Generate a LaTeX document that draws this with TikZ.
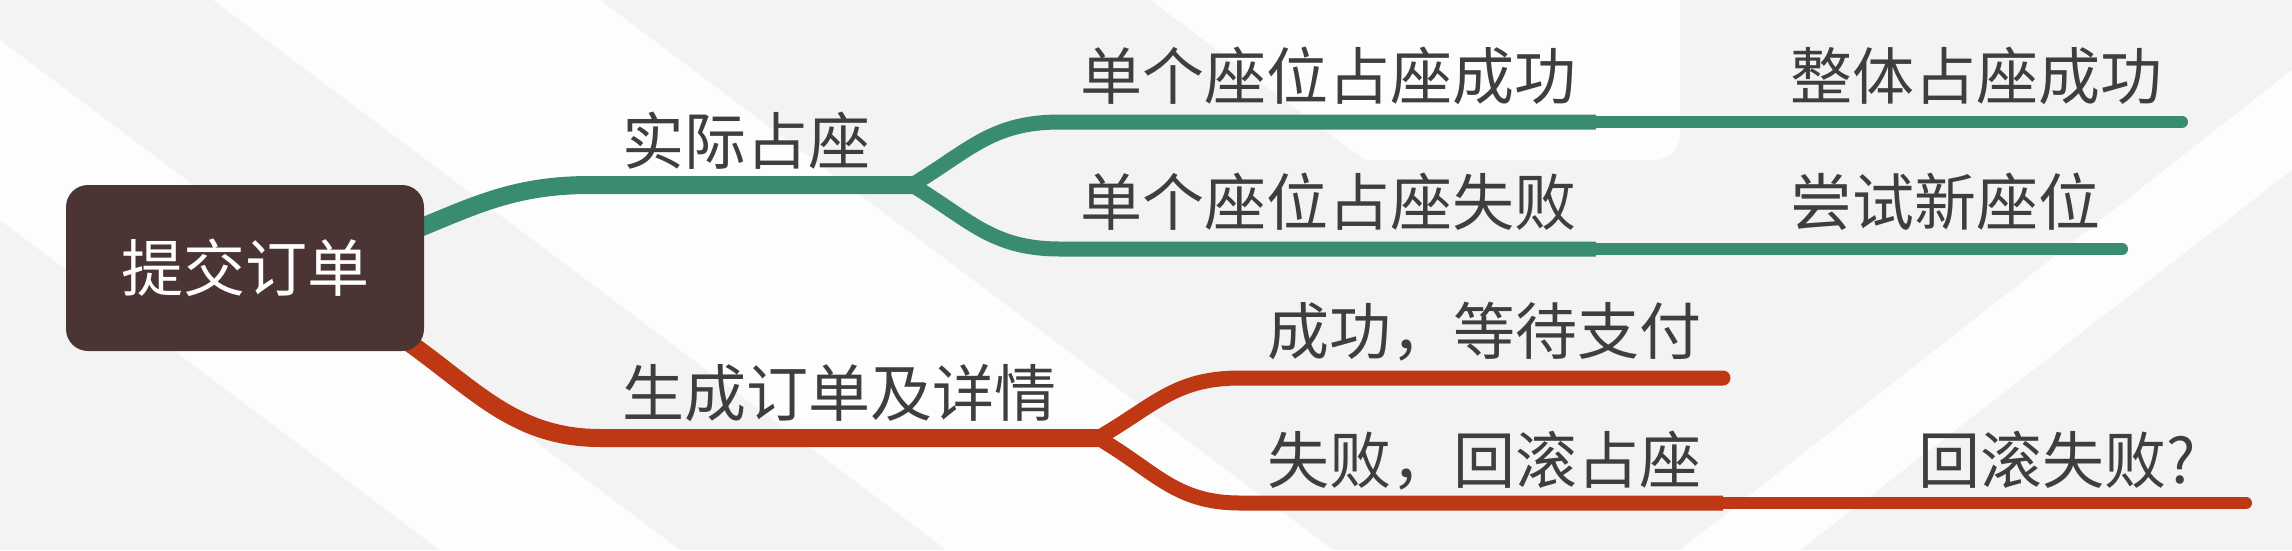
\documentclass[tikz,border=0pt]{standalone}
\usepackage{fontspec}
\setmainfont{Noto Sans CJK SC}
\definecolor{bggray}{HTML}{F3F3F3}
\definecolor{bgwhite}{HTML}{FDFDFD}
\definecolor{brgreen}{HTML}{3A8C6E}
\definecolor{brred}{HTML}{BE3814}
\definecolor{rootfill}{HTML}{4A3534}
\definecolor{txt}{HTML}{3E3E3E}
\pgfdeclarelayer{bgl}
\pgfdeclarelayer{lines}
\pgfsetlayers{bgl,lines,main}
\begin{document}
\begin{tikzpicture}[x=1pt,y=-1pt,
  lbl/.style={font=\fontsize{62}{70}\selectfont, text=txt, inner sep=0pt, anchor=base west},
  rootbox/.style={fill=rootfill, rounded corners=22pt, minimum width=358pt, minimum height=166pt,
    text=white, inner sep=0pt, font=\fontsize{62}{70}\selectfont},
  lone/.style={line width=18pt, line cap=round},
  ltwo/.style={line width=15pt, line cap=butt},
  ltwoleaf/.style={line width=15pt, line cap=round},
  lthree/.style={line width=12pt, line cap=round},
]
\useasboundingbox (0,0) rectangle (2292,550);
\begin{pgfonlayer}{bgl}
  \fill[bggray] (0,0) rectangle (2292,550);
  \fill[bgwhite] (0,40) -- (0,220) -- (440,550) -- (680,550) -- cycle;
  \fill[bgwhite] (213,0) -- (600,0) -- (1333,550) -- (947,550) -- cycle;
  \fill[bgwhite] (1150,0) -- (1680,0) -- (1680,135) arc[start angle=0,end angle=90,radius=25] -- (1365,160) -- cycle;
  \fill[bgwhite] (2292,70) -- (2292,170) -- (1800,550) -- (1680,550) -- cycle;
\end{pgfonlayer}

% nodes
\node[rootbox] (root) at (245,268) {提交订单};
\node[lbl] (a) at (622,164) {实际占座};
\node[lbl] (b) at (622,416) {生成订单及详情};
\node[lbl] (a1) at (1080,99) {单个座位占座成功};
\node[lbl] (a2) at (1080,225) {单个座位占座失败};
\node[lbl] (a11) at (1790,99) {整体占座成功};
\node[lbl] (a21) at (1790,225) {尝试新座位};
\node[lbl] (b1) at (1267,354) {成功，等待支付};
\node[lbl] (b2) at (1267,483) {失败，回滚占座};
\node[lbl] (b21) at (1918,483) {回滚失败?};

% coordinates of connectors
\coordinate (gs) at (400,236);
\coordinate (gm) at (590,185);
\coordinate (gf) at (912,185);
\coordinate (gu) at (1060,122);
\coordinate (gut) at (1596,122);
\coordinate (gue) at (2182,122);
\coordinate (gl) at (1060,249);
\coordinate (glt) at (1596,249);
\coordinate (gle) at (2122,249);
\coordinate (rs) at (395,333);
\coordinate (rm) at (600,438);
\coordinate (rf) at (1098,438);
\coordinate (ru) at (1240,378);
\coordinate (rue) at (1723,378);
\coordinate (rl) at (1240,503);
\coordinate (rlt) at (1723,503);
\coordinate (rle) at (2246,503);

\begin{pgfonlayer}{lines}
  \draw[lone,brgreen] (gs) .. controls (470,208) and (510,185) .. (gm) -- (gf);
  \draw[ltwo,brgreen] (gf) .. controls (970,150) and (992,122) .. (gu) -- (gut);
  \draw[ltwo,brgreen] (gf) .. controls (970,220) and (992,249) .. (gl) -- (glt);
  \draw[lthree,brgreen] (gut) -- (gue);
  \draw[lthree,brgreen] (glt) -- (gle);
  \draw[lone,brred] (rs) .. controls (470,383) and (510,438) .. (rm) -- (rf);
  \draw[ltwoleaf,brred] (rf) .. controls (1155,405) and (1175,378) .. (ru) -- (rue);
  \draw[ltwo,brred] (rf) .. controls (1155,471) and (1175,503) .. (rl) -- (rlt);
  \draw[lthree,brred] (rlt) -- (rle);
\end{pgfonlayer}
\end{tikzpicture}
\end{document}
